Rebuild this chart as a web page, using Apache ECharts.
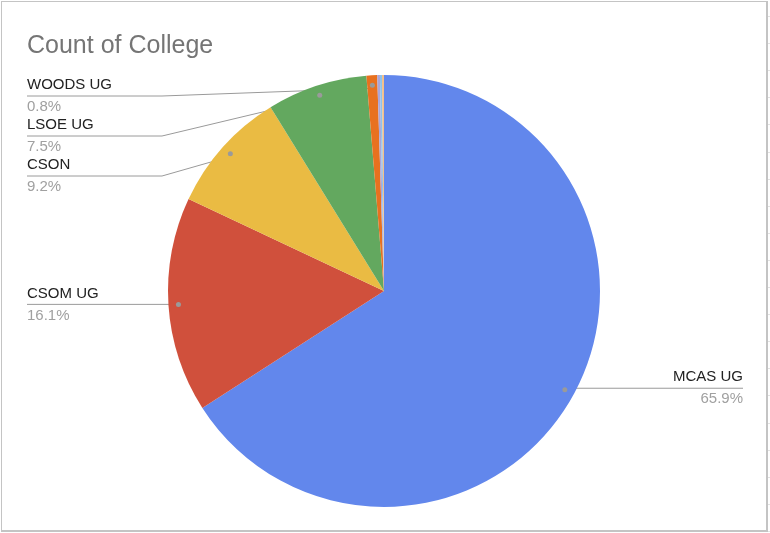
<!DOCTYPE html>
<html><head><meta charset="utf-8">
<script src="https://cdn.jsdelivr.net/npm/echarts@6/dist/echarts.min.js"></script>
<style>
html,body{margin:0;padding:0;background:#fff;}
#wrap{position:relative;width:770px;height:533px;overflow:hidden;background:#fff;}
#chart{position:absolute;left:0;top:0;width:770px;height:533px;}
#frame{position:absolute;left:1px;top:1px;width:764px;height:528px;border:1px solid #c4c4c4;border-right-width:2px;border-bottom-width:2px;pointer-events:none;}
#ticks{position:absolute;left:768px;top:0;width:2px;height:533px;pointer-events:none;
  background:repeating-linear-gradient(to bottom, rgba(0,0,0,0) 0px, rgba(0,0,0,0) 16px, #e2e2e2 16px, #e2e2e2 17px, rgba(0,0,0,0) 17px, rgba(0,0,0,0) 27.1px);}
</style></head><body>
<div id="wrap"><div id="chart"></div><div id="frame"></div><div id="ticks"></div></div>
<script>
// ---- data ----
const titleText = 'Count of College';
const categories = ['MCAS UG', 'CSOM UG', 'CSON', 'LSOE UG', 'WOODS UG', 'Other 1', 'Other 2', 'Other 3'];
const values = [65.9, 16.1, 9.2, 7.5, 0.8, 0.2, 0.15, 0.15];
const labelled = [true, true, true, true, true, false, false, false];

// ---- style ----
const colors = ['#6287EC', '#D0503C', '#EABB43', '#63A85F', '#E8711F', '#ABA6D8', '#8EC3EC', '#F3C08A'];
const CX = 384, CY = 291, R = 216, DOT_R = 203, TOP = 76;
const LH = 22;
const FONT = 'Liberation Sans, Arial, sans-serif';

const chart = echarts.init(document.getElementById('chart'), null, {renderer: 'canvas'});

const mainData = categories.map((n, i) => ({
  name: n, value: values[i],
  itemStyle: {color: colors[i]},
  label: {show: labelled[i]},
  labelLine: {show: labelled[i]}
}));
const dotData = categories.map((n, i) => ({
  name: n, value: values[i],
  label: {show: labelled[i]}
}));

chart.setOption({
  animation: false,
  title: {
    text: titleText, left: 27, top: 34, padding: 0,
    textStyle: {fontSize: 25, fontWeight: 'normal', color: '#757575', fontFamily: FONT}
  },
  series: [
    {
      type: 'pie',
      left: 0, right: 0, top: TOP, bottom: 0,
      center: [CX, CY - TOP],
      radius: [0, R],
      startAngle: 90,
      clockwise: true,
      percentPrecision: 1,
      avoidLabelOverlap: true,
      itemStyle: {borderWidth: 0},
      emphasis: {disabled: true},
      label: {
        show: true,
        position: 'outside',
        alignTo: 'edge',
        edgeDistance: 27,
        minMargin: 3,
        formatter: p => '{n|' + p.name + '}\n{p|' + p.percent.toFixed(1) + '%}',
        rich: {
          n: {fontSize: 15, lineHeight: LH, color: '#222222', fontFamily: FONT},
          p: {fontSize: 15, lineHeight: LH, color: '#a0a0a0', fontFamily: FONT}
        }
      },
      labelLine: {
        show: true, length: DOT_R - R, length2: 15, smooth: false,
        lineStyle: {color: '#9a9a9a', width: 1}
      },
      labelLayout: function (p) {
        if (!p.labelLinePoints || !p.labelRect) return {};
        const r = p.labelRect;
        const p0 = p.labelLinePoints[0];
        const k = DOT_R / R;
        const sx = CX + (p0[0] - CX) * k;
        const sy = CY + (p0[1] - CY) * k;
        const lineY = r.y + r.height / 2;
        const left = (r.x + r.width / 2) < CX;
        const kinkX = left ? CX - R - 6 : CX + R + 6;
        const endX = left ? r.x : r.x + r.width;
        return {labelLinePoints: [[sx, sy], [kinkX, lineY], [endX, lineY]]};
      },
      data: mainData
    },
    {
      type: 'pie',
      silent: true,
      left: 0, right: 0, top: TOP, bottom: 0,
      center: [CX, CY - TOP],
      radius: [DOT_R - 6, DOT_R + 6],
      startAngle: 90,
      clockwise: true,
      itemStyle: {color: 'rgba(0,0,0,0)', borderWidth: 0},
      emphasis: {disabled: true},
      label: {
        show: true, position: 'inside',
        formatter: '{d| }',
        rich: {d: {width: 5, height: 5, borderRadius: 2.5, backgroundColor: '#9a9a9a', fontSize: 1, lineHeight: 5}}
      },
      labelLine: {show: false},
      data: dotData
    }
  ]
});
</script>
</body></html>
